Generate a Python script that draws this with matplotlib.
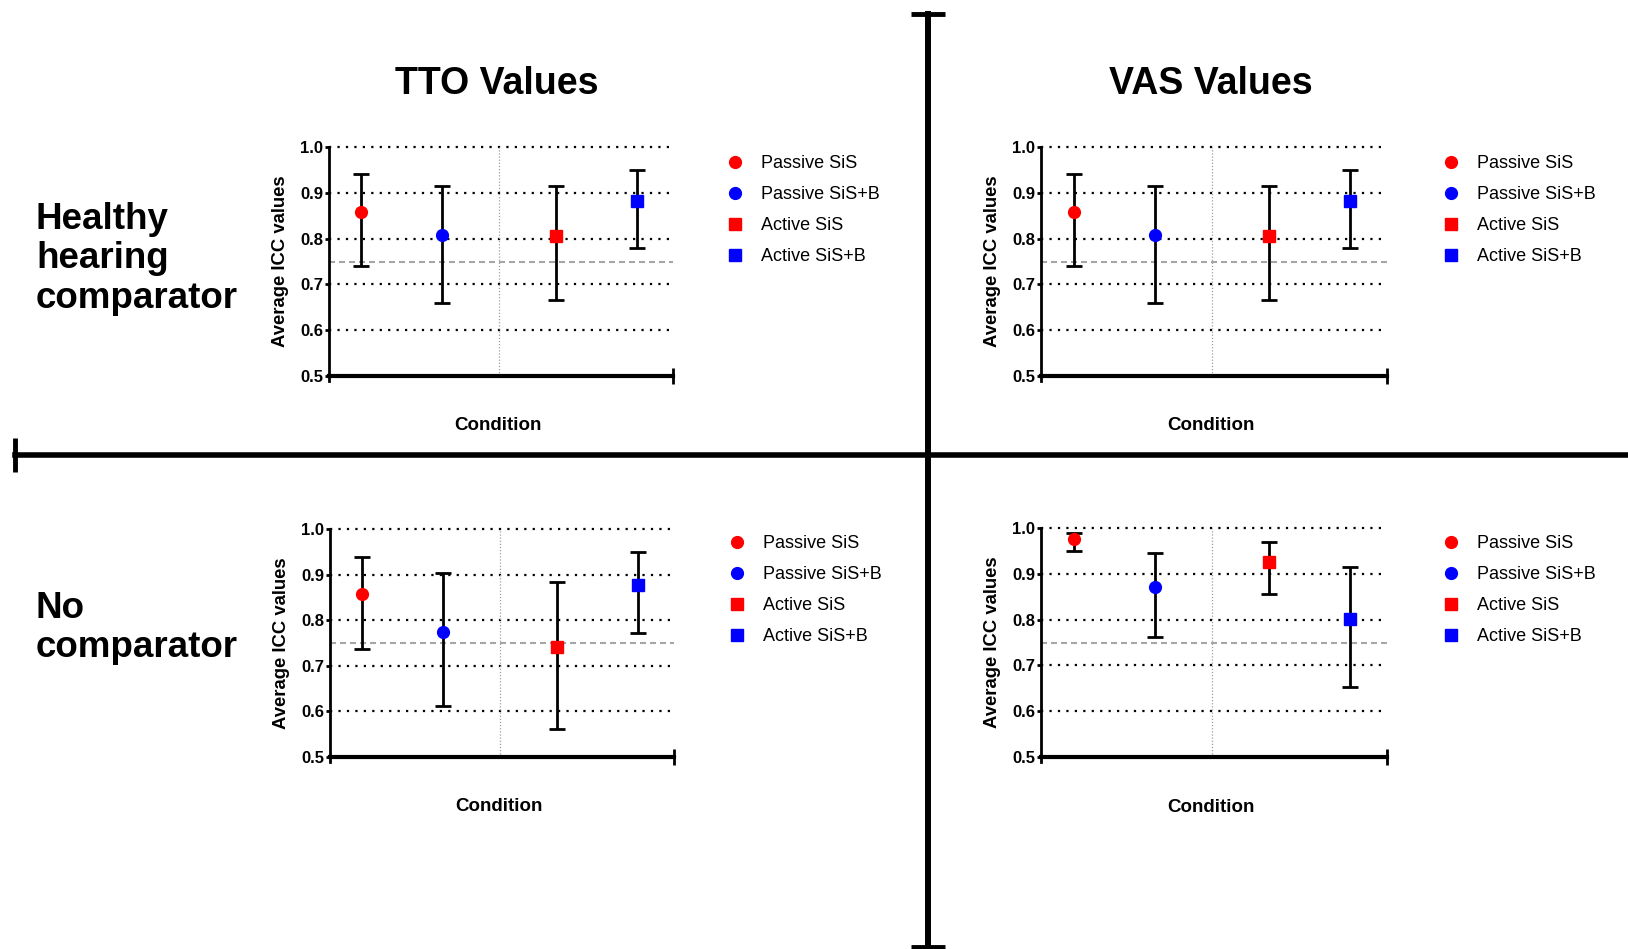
import numpy as np
import matplotlib
matplotlib.use("Agg")
import matplotlib.pyplot as plt
from matplotlib.lines import Line2D
from matplotlib.ticker import FormatStrFormatter

plt.rcParams['font.family'] = ['Liberation Sans', 'DejaVu Sans']

# ICC estimates with 95% CI, one list per panel
conditions = ['Passive SiS', 'Passive SiS+B', 'Active SiS', 'Active SiS+B']
markers = ['o', 'o', 's', 's']
colors = ['#ff0000', '#0000ff', '#ff0000', '#0000ff']

tto_healthy_icc = [0.859, 0.807, 0.805, 0.883]
tto_healthy_low = [0.740, 0.660, 0.666, 0.780]
tto_healthy_high = [0.941, 0.915, 0.915, 0.950]

vas_healthy_icc = [0.859, 0.807, 0.806, 0.883]
vas_healthy_low = [0.740, 0.659, 0.665, 0.780]
vas_healthy_high = [0.941, 0.915, 0.915, 0.950]

tto_none_icc = [0.857, 0.775, 0.742, 0.878]
tto_none_low = [0.736, 0.611, 0.562, 0.772]
tto_none_high = [0.939, 0.903, 0.884, 0.949]

vas_none_icc = [0.976, 0.871, 0.926, 0.802]
vas_none_low = [0.950, 0.761, 0.855, 0.652]
vas_none_high = [0.989, 0.945, 0.969, 0.914]

good_threshold = 0.75
yticks = [0.5, 0.6, 0.7, 0.8, 0.9, 1.0]

# passive pair on the left half, active pair on the right half
xpos = [0, 1, 2.4, 3.4]
xmin, xmax, xmid = -0.4, 3.85, 1.7

W, H = 1628, 949
fig = plt.figure(figsize=(W / 100, H / 100), dpi=100)


def px_box(left, top, right, bottom):
    return [left / W, 1 - bottom / H, (right - left) / W, (bottom - top) / H]


def draw_panel(box, icc, low, high, legend_xy, cond_y):
    ax = fig.add_axes(px_box(*box))
    for i in range(len(conditions)):
        err = [[icc[i] - low[i]], [high[i] - icc[i]]]
        ax.errorbar(xpos[i], icc[i], yerr=err, fmt='none', ecolor='black',
                    elinewidth=2, capsize=6, capthick=2, zorder=3)
        ax.plot(xpos[i], icc[i], marker=markers[i], color=colors[i],
                markersize=8.5 if markers[i] == 'o' else 8, linestyle='none',
                zorder=4, label=conditions[i])

    for y in yticks[1:]:
        ax.axhline(y, color='black', lw=1.6, linestyle=(0, (1, 2.8)),
                   clip_on=False, zorder=1)
    ax.axhline(good_threshold, color='#a6a6a6', lw=1.5,
               linestyle=(0, (2.9, 1.9)), zorder=2)
    ax.axvline(xmid, color='#a0a0a0', lw=0.9, linestyle=(0, (1, 1.5)), zorder=1)

    ax.set_xlim(xmin, xmax)
    ax.set_ylim(0.5, 1.0)
    ax.set_yticks(yticks)
    ax.yaxis.set_major_formatter(FormatStrFormatter('%.1f'))
    ax.set_xticks([xmax])
    ax.set_xticklabels([''])
    ax.tick_params(axis='x', direction='inout', length=11, width=2)
    ax.tick_params(axis='y', direction='out', length=3, width=2, pad=1,
                   labelsize=12)
    for lab in ax.get_yticklabels():
        lab.set_fontweight('bold')

    for side in ['top', 'right']:
        ax.spines[side].set_visible(False)
    ax.spines['left'].set_linewidth(2)
    ax.spines['bottom'].set_linewidth(3)
    ax.spines['left'].set_bounds(0.49, 1.0)

    ax.set_ylabel('Average ICC values', fontsize=13.3, fontweight='bold')
    ax.yaxis.set_label_coords(-0.116, 0.5)
    ax.text(0.49, cond_y, 'Condition', transform=ax.transAxes, ha='center',
            va='center', fontsize=13.5, fontweight='bold')

    ax.legend(loc='upper left', bbox_to_anchor=(legend_xy[0] / W, 1 - legend_xy[1] / H),
              bbox_transform=fig.transFigure, frameon=False, fontsize=13,
              borderpad=0, borderaxespad=0, handlelength=1.0,
              handletextpad=0.94, labelspacing=0.78, numpoints=1)
    return ax


draw_panel((329, 147, 673, 376), tto_healthy_icc, tto_healthy_low,
           tto_healthy_high, (726, 155), -0.214)
draw_panel((1041, 147, 1387, 376), vas_healthy_icc, vas_healthy_low,
           vas_healthy_high, (1441.7, 155), -0.218)
draw_panel((330, 529, 674, 757), tto_none_icc, tto_none_low,
           tto_none_high, (728, 535), -0.219)
draw_panel((1041, 528, 1387, 757), vas_none_icc, vas_none_low,
           vas_none_high, (1441.7, 535), -0.219)

# column and row headings
fig.text(497 / W, 1 - 83.5 / H, 'TTO Values', ha='center', va='center',
         fontsize=27, fontweight='bold')
fig.text(1211 / W, 1 - 83.5 / H, 'VAS Values', ha='center', va='center',
         fontsize=27, fontweight='bold')
fig.text(36 / W, 1 - 259 / H, 'Healthy\nhearing\ncomparator', ha='left',
         va='center', fontsize=26.5, fontweight='bold', linespacing=1.18)
fig.text(36 / W, 1 - 628 / H, 'No\ncomparator', ha='left', va='center',
         fontsize=26.5, fontweight='bold', linespacing=1.18)

# cross dividing the four panels
fig.add_artist(Line2D([928 / W, 928 / W], [1 - 14 / H, 1 - 947 / H],
                      color='black', lw=4.3, marker='_', markersize=24,
                      markeredgewidth=3.5))
fig.add_artist(Line2D([15 / W, 1.0], [1 - 455 / H, 1 - 455 / H],
                      color='black', lw=4.0, marker='|', markersize=24,
                      markeredgewidth=3.5, markevery=[0]))

fig.savefig('out.png', dpi=100)
